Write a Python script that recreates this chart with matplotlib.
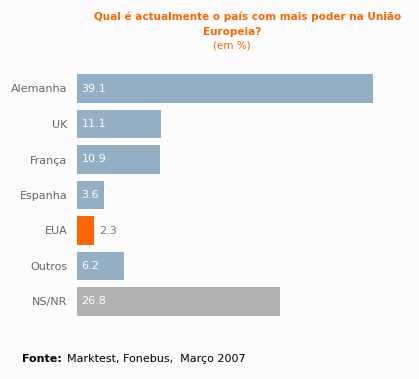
import matplotlib.pyplot as plt

# data
countries = ["Alemanha", "UK", "França", "Espanha", "EUA", "Outros", "NS/NR"]
values = [39.1, 11.1, 10.9, 3.6, 2.3, 6.2, 26.8]
colors = ["#94aec4", "#94aec4", "#94aec4", "#94aec4", "#ff6600", "#94aec4", "#b2b2b2"]

W, H = 419, 379
fig = plt.figure(figsize=(W / 100, H / 100), dpi=100, facecolor="#fcfcfc")

px_per_unit = 7.57
left_px, right_px = 77, 405
top_px, bottom_px = 70.75, 319.25
ax = fig.add_axes([left_px / W, 1 - bottom_px / H,
                   (right_px - left_px) / W, (bottom_px - top_px) / H])
ax.set_facecolor("#fcfcfc")

y = range(len(countries))
ax.barh(y, values, height=0.81, color=colors)
ax.set_xlim(0, (right_px - left_px) / px_per_unit)
ax.set_ylim(len(countries) - 0.5, -0.5)

for i, v in enumerate(values):
    if v < 3:
        ax.text(v + 0.6, i, f"{v}", va="center", ha="left", color="#777777", fontsize=8)
    else:
        ax.text(0.6, i, f"{v}", va="center", ha="left", color="white", fontsize=8)

ax.set_yticks(list(y))
ax.set_yticklabels(countries, color="#666666", fontsize=8)
ax.tick_params(axis="y", length=0, pad=7)
ax.set_xticks([])
for s in ax.spines.values():
    s.set_visible(False)

orange = "#ff6600"
fig.text(248 / W, 1 - 17 / H, "Qual é actualmente o país com mais poder na União",
         ha="center", va="center", color=orange, fontsize=7.5, fontweight="bold")
fig.text(232 / W, 1 - 32 / H, "Europeia?", ha="center", va="center",
         color=orange, fontsize=7.5, fontweight="bold")
fig.text(232 / W, 1 - 46 / H, "(em %)", ha="center", va="center",
         color=orange, fontsize=7.5)

fig.text(22 / W, 1 - 359 / H, "Fonte:", ha="left", va="center",
         color="black", fontsize=8, fontweight="bold")
fig.text(67 / W, 1 - 359 / H, "Marktest, Fonebus,  Março 2007", ha="left",
         va="center", color="black", fontsize=8)

fig.savefig("out.png", dpi=100, facecolor=fig.get_facecolor())
